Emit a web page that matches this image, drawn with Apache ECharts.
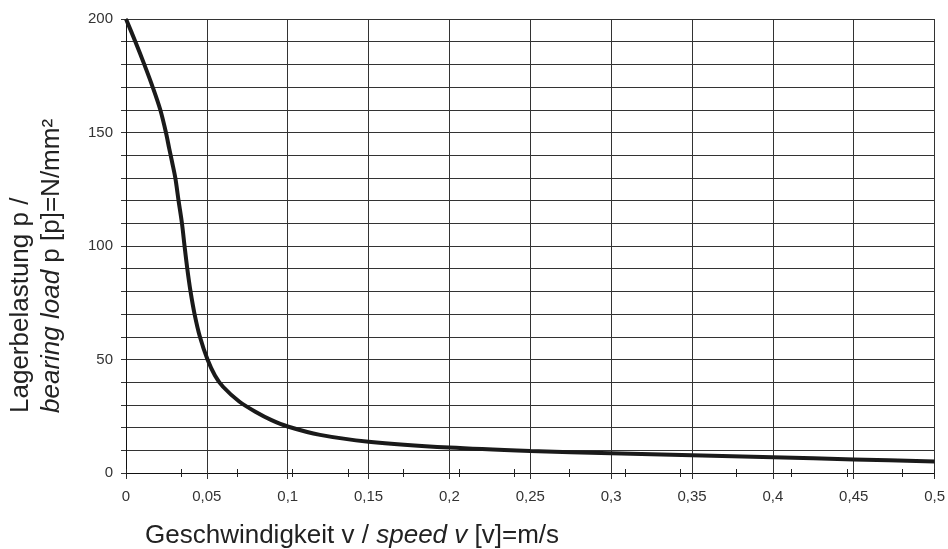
<!DOCTYPE html>
<html>
<head>
<meta charset="utf-8">
<script src="https://cdn.jsdelivr.net/npm/echarts@6/dist/echarts.min.js"></script>
<style>html,body{margin:0;padding:0;background:#fff;}#c{width:948px;height:549px;}</style>
</head>
<body>
<div id="c"></div>
<script>
// data
var speed = [0, 0.0058, 0.0113, 0.0165, 0.0212, 0.0247, 0.0267, 0.0285, 0.0305, 0.0325, 0.0346, 0.0362, 0.0379, 0.0399, 0.0424, 0.0457, 0.0504, 0.055, 0.06, 0.07, 0.08, 0.09, 0.1, 0.12, 0.15, 0.2, 0.25, 0.3, 0.35, 0.4, 0.45, 0.5];
var load  = [200, 190, 180, 170, 160, 150, 143, 137, 130, 120, 110, 100, 90, 80, 70, 60, 50, 43, 38, 31.5, 27, 23.3, 20.5, 16.8, 13.8, 11.2, 9.7, 8.7, 7.8, 6.9, 6.0, 5.1];
var yTickLabels = [0, 50, 100, 150, 200];
var xTickLabels = ['0', '0,05', '0,1', '0,15', '0,2', '0,25', '0,3', '0,35', '0,4', '0,45', '0,5'];

var font = '"Liberation Sans", Arial, sans-serif';
var chart = echarts.init(document.getElementById('c'));
var pts = speed.map(function (v, i) { return [v, load[i]]; });

var minorAxis = function (inside) {
  return {
    type: 'value', min: 0, max: 0.5, interval: 0.0343, position: 'bottom',
    axisLine: { show: false }, axisLabel: { show: false }, splitLine: { show: false },
    axisTick: { show: true, inside: inside, length: 4, lineStyle: { color: '#222', width: 1 } }
  };
};

chart.setOption({
  animation: false,
  backgroundColor: '#fff',
  grid: { left: 126, right: 11, top: 19, bottom: 76, containLabel: false },
  xAxis: [{
    type: 'value', min: 0, max: 0.5, interval: 0.05,
    axisLine: { show: true, onZero: false, lineStyle: { color: '#111', width: 1 } },
    axisTick: { show: true, length: 6, lineStyle: { color: '#333' } },
    axisLabel: {
      margin: 16, color: '#333', fontSize: 15, fontFamily: font,
      formatter: function (v) { var i = Math.round(v / 0.05); return xTickLabels[i] || ''; }
    },
    splitLine: { show: true, lineStyle: { color: '#333', width: 1 } }
  }, minorAxis(true), minorAxis(false)],
  yAxis: {
    type: 'value', min: 0, max: 200, interval: 10,
    axisLine: { show: true, lineStyle: { color: '#111', width: 1 } },
    axisTick: { show: true, length: 5, lineStyle: { color: '#333' } },
    axisLabel: {
      margin: 13, color: '#333', fontSize: 15, fontFamily: font,
      formatter: function (v) { return yTickLabels.indexOf(v) >= 0 ? String(v) : ''; }
    },
    splitLine: { show: true, lineStyle: { color: '#333', width: 1 } }
  },
  series: [{
    type: 'line', data: pts, xAxisIndex: 0, smooth: 0.3, showSymbol: false,
    lineStyle: { color: '#1a1a1a', width: 4 }, z: 5
  }],
  graphic: [
    {
      type: 'text', x: 145, y: 536,
      style: {
        text: 'Geschwindigkeit v / {i|speed v} [v]=m/s',
        fontSize: 26, fontFamily: font, fill: '#222',
        verticalAlign: 'middle', align: 'left',
        rich: { i: { fontStyle: 'italic', fontSize: 26, fontFamily: font, fill: '#222' } }
      }
    },
    {
      type: 'text', x: 21, y: 413, rotation: Math.PI / 2,
      style: {
        text: 'Lagerbelastung p /',
        fontSize: 26, fontFamily: font, fill: '#222',
        verticalAlign: 'middle', align: 'left'
      }
    },
    {
      type: 'text', x: 52, y: 413, rotation: Math.PI / 2,
      style: {
        text: '{i|bearing load} p [p]=N/mm²',
        fontSize: 26, fontFamily: font, fill: '#222',
        verticalAlign: 'middle', align: 'left',
        rich: { i: { fontStyle: 'italic', fontSize: 26, fontFamily: font, fill: '#222' } }
      }
    }
  ]
});
</script>
</body>
</html>
